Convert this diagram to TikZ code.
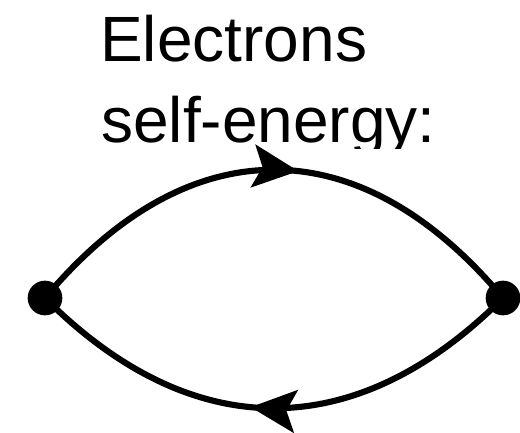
\documentclass[tikz,border=0pt]{standalone}
\usepackage{fontspec}
\setmainfont{Liberation Sans}
\usetikzlibrary{arrows.meta,decorations.markings}
\begin{document}
\begin{tikzpicture}[x=0.75pt,y=-0.75pt,
  lbl/.style={anchor=base west,inner sep=0pt,font=\fontsize{48}{57}\selectfont},
  vertex/.style={circle,fill=black,inner sep=0pt,minimum size=26pt},
  prop/.style={line width=4.6pt,postaction={decorate},decoration={markings,
     mark=at position 0.545 with {\arrow{Stealth[length=34pt,width=32pt,inset=7pt]}}}}]
\useasboundingbox (0,0) rectangle (520,432);
\begin{scope}
\clip (0,0) rectangle (520,148);
\node[lbl] (t1) at (100,61) {Electrons};
\node[lbl] (t2) at (101,142) {self-energy:};
\end{scope}
\coordinate (L) at (45,298);
\coordinate (R) at (503,298);
\draw[prop] (L) .. controls (188,127) and (360,127) .. (R);
\draw[prop] (R) .. controls (356,445) and (192,445) .. (L);
\node[vertex] (dl) at (L) {};
\node[vertex] (dr) at (R) {};
\end{tikzpicture}
\end{document}
